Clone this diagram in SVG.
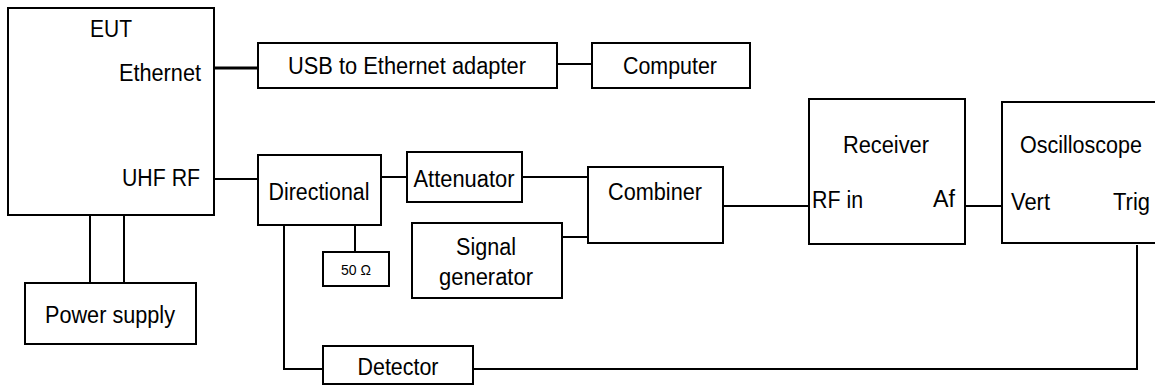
<svg xmlns="http://www.w3.org/2000/svg" width="1155" height="386" viewBox="0 0 1155 386">
<style>
rect.box{fill:#fff;stroke:#000;stroke-width:2}
.ln{fill:none;stroke:#000;stroke-width:2}
text{font-family:"Liberation Sans",Arial,sans-serif;font-size:23px;fill:#000}
.c{text-anchor:middle}
.e{text-anchor:end}
.sm{font-size:15px}
</style>
<rect width="1155" height="386" fill="#fff"/>
<g id="connectors">
<line class="ln" x1="214" y1="68" x2="258" y2="68" style="stroke-width:3"/>
<line class="ln" x1="557" y1="64" x2="592" y2="64"/>
<line class="ln" x1="214" y1="179" x2="258" y2="179"/>
<line class="ln" x1="381" y1="177" x2="407" y2="177"/>
<line class="ln" x1="522" y1="177" x2="588" y2="177"/>
<line class="ln" x1="562" y1="237" x2="588" y2="237"/>
<line class="ln" x1="723" y1="206" x2="809" y2="206"/>
<line class="ln" x1="965" y1="206" x2="1002" y2="206"/>
<line class="ln" x1="355" y1="225" x2="355" y2="252"/>
<line class="ln" x1="90" y1="215" x2="90" y2="283"/>
<line class="ln" x1="124" y1="215" x2="124" y2="283"/>
<polyline class="ln" points="284,225 284,369 323,369"/>
<polyline class="ln" points="473,369 1137,369 1137,245"/>
</g>
<g id="eut"><rect class="box" x="8" y="8" width="206" height="207"/>
<text class="c" x="111" y="37" textLength="42" lengthAdjust="spacingAndGlyphs">EUT</text>
<text class="e" x="201" y="81" textLength="82" lengthAdjust="spacingAndGlyphs">Ethernet</text>
<text class="e" x="200" y="186" textLength="78" lengthAdjust="spacingAndGlyphs">UHF RF</text></g>
<g id="usb"><rect class="box" x="258" y="43" width="299" height="45"/><text class="c" x="407" y="74" textLength="238" lengthAdjust="spacingAndGlyphs">USB to Ethernet adapter</text></g>
<g id="computer"><rect class="box" x="592" y="43" width="158" height="45"/><text class="c" x="670" y="74" textLength="94" lengthAdjust="spacingAndGlyphs">Computer</text></g>
<g id="directional"><rect class="box" x="258" y="155" width="123" height="70"/><text class="c" x="319" y="200" textLength="101" lengthAdjust="spacingAndGlyphs">Directional</text></g>
<g id="attenuator"><rect class="box" x="407" y="152" width="115" height="50"/><text class="c" x="464" y="187" textLength="101" lengthAdjust="spacingAndGlyphs">Attenuator</text></g>
<g id="combiner"><rect class="box" x="588" y="167" width="135" height="76"/><text class="c" x="655" y="200" textLength="94" lengthAdjust="spacingAndGlyphs">Combiner</text></g>
<g id="siggen"><rect class="box" x="412" y="223" width="150" height="75"/><text class="c" x="486" y="255" textLength="60" lengthAdjust="spacingAndGlyphs">Signal</text><text class="c" x="486" y="285" textLength="94" lengthAdjust="spacingAndGlyphs">generator</text></g>
<g id="load"><rect class="box" x="323" y="252" width="66" height="34"/><text class="c sm" x="356" y="275" textLength="30" lengthAdjust="spacingAndGlyphs">50 Ω</text></g>
<g id="receiver"><rect class="box" x="809" y="99" width="156" height="145"/>
<text class="c" x="886" y="153" textLength="86" lengthAdjust="spacingAndGlyphs">Receiver</text>
<text x="812" y="208" textLength="51" lengthAdjust="spacingAndGlyphs">RF in</text>
<text class="e" x="955" y="207" textLength="22" lengthAdjust="spacingAndGlyphs">Af</text></g>
<g id="oscilloscope"><rect class="box" x="1002" y="102" width="160" height="141"/>
<text class="c" x="1081" y="153" textLength="122" lengthAdjust="spacingAndGlyphs">Oscilloscope</text>
<text x="1011" y="210" textLength="39" lengthAdjust="spacingAndGlyphs">Vert</text>
<text x="1113" y="210" textLength="37" lengthAdjust="spacingAndGlyphs">Trig</text></g>
<g id="power"><rect class="box" x="25" y="283" width="171" height="61"/><text class="c" x="110" y="323" textLength="130" lengthAdjust="spacingAndGlyphs">Power supply</text></g>
<g id="detector"><rect class="box" x="323" y="346" width="150" height="38"/><text class="c" x="398" y="375" textLength="81" lengthAdjust="spacingAndGlyphs">Detector</text></g>
</svg>
